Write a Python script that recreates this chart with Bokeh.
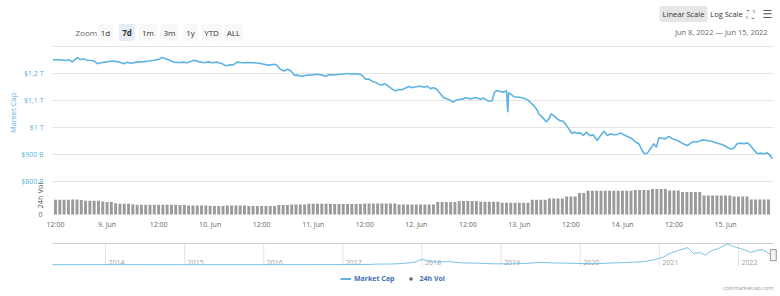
from bokeh.plotting import figure
from bokeh.models import Range1d, Label, Legend, LegendItem
from bokeh.core.properties import value
from bokeh.embed import file_html
from bokeh.resources import INLINE

FONT = "Open Sans"

# ---- main series: hours since 2022-06-08 00:00, market cap in billions USD
mcap_hours = [11.4, 12.8, 14.3, 15.1, 15.9, 17.1, 17.8, 18.6, 19.4, 20.6, 21.3, 21.7, 22.5, 23.6, 25.2,
              26.4, 27.1, 27.9, 28.7, 29.5, 31.0, 32.6, 33.7, 34.9, 36.1, 36.8, 38.0, 38.8, 39.5, 40.7,
              41.9, 42.7, 43.4, 44.2, 45.4, 46.5, 47.7, 48.5, 49.7, 50.8, 51.6, 52.8, 53.5, 54.3, 55.5,
              56.6, 58.2, 59.3, 60.9, 61.7, 63.2, 63.6, 64.4, 65.2, 66.0, 66.7, 67.7,
              68.3, 69.4, 70.6, 71.8, 72.9, 74.1, 74.9, 75.6, 77.2, 78.4, 79.9, 81.1, 82.3, 83.0, 83.6,
              84.2, 85.0, 85.7, 86.7, 87.3, 88.1, 88.6, 89.4, 90.0, 90.6, 91.2, 91.9, 92.7, 93.5, 94.3,
              95.1, 95.8, 97.0, 97.8, 98.5, 99.3, 100.1, 100.9, 101.6, 102.4, 103.2, 104.0, 104.5, 105.5,
              106.7, 107.5, 108.6, 109.8, 111.0, 111.7, 112.9, 113.7, 114.2, 114.8, 115.6, 116.4, 117.0,
              117.3, 117.5, 117.9, 118.7, 119.9, 120.7, 121.8,
              122.6, 123.4, 124.2, 124.5, 125.7, 126.3, 126.9, 127.4, 128.2, 128.8, 129.4, 130.2, 131.0,
              131.7, 132.3, 132.8, 133.5, 134.2, 134.9, 135.6, 136.4, 137.2, 138.1, 138.9, 139.7, 140.5,
              141.2, 142.0, 142.8, 143.6, 144.3, 145.5, 146.3, 147.0, 147.8, 148.6, 149.1, 149.8, 150.5,
              151.3, 151.9, 152.5, 153.3, 154.0, 154.8, 155.6, 156.8, 157.9, 159.1, 159.9, 160.6, 161.4,
              162.6, 163.7, 164.9, 166.1, 167.2, 168.4, 169.2, 169.9, 170.7, 171.5, 172.3, 173.1, 173.8,
              174.6, 175.4, 176.2, 176.9, 177.7, 178.3, 178.9]
mcap_billion = [1251, 1251, 1248, 1251, 1243, 1259, 1252, 1254, 1249, 1248, 1243, 1236, 1240, 1242, 1246,
                1244, 1241, 1236, 1242, 1238, 1242, 1244, 1246, 1249, 1253, 1259, 1253, 1248, 1242, 1241,
                1242, 1240, 1244, 1249, 1244, 1240, 1243, 1240, 1242, 1236, 1229, 1232, 1233, 1242, 1240,
                1241, 1240, 1238, 1233, 1231, 1234, 1230, 1215, 1209, 1216, 1211, 1193,
                1194, 1190, 1194, 1195, 1197, 1194, 1190, 1195, 1196, 1197, 1200, 1197, 1199, 1197, 1190,
                1179, 1179, 1171, 1166, 1159, 1158, 1162, 1154, 1147, 1140, 1136, 1141, 1140, 1146, 1152,
                1147, 1151, 1153, 1149, 1153, 1144, 1147, 1140, 1125, 1110, 1106, 1100, 1094, 1103,
                1105, 1110, 1106, 1111, 1105, 1109, 1097, 1100, 1131, 1137, 1133, 1131, 1137,
                1057, 1129, 1125, 1114, 1112, 1110, 1104,
                1092, 1081, 1063, 1051, 1032, 1020, 1032, 1051, 1041, 1032, 1026, 1023, 1007,
                991, 977, 983, 979, 980, 970, 983, 970, 973, 952, 970, 986, 970,
                977, 973, 974, 980, 973, 964, 958, 946, 940, 915, 903, 905, 921,
                940, 927, 962, 960, 958, 967, 958, 952, 942, 933, 942, 948, 946,
                954, 952, 948, 942, 937, 927, 920, 923, 940, 942, 940, 943, 933,
                917, 903, 905, 903, 906, 899, 884]

# ---- 24h volume: hourly bars, hours since 2022-06-08 00:00, billions USD
vol_hours = list(range(12, 179))
vol_billion = [74, 74, 74, 74, 75, 75, 72,
               69, 69, 69, 69,
               65, 62, 62,
               56, 54, 54, 54,
               51, 49, 49, 49, 49, 49, 49, 49, 49, 49, 49, 48, 47,
               45, 45, 45, 45, 45, 44,
               42, 42, 42,
               45, 45, 45, 45, 45,
               42, 42, 42, 42, 42, 42, 42,
               47, 47, 47,
               50, 50, 50, 50,
               54, 54, 54, 54, 54, 54,
               52, 52, 52, 52, 52, 52, 52,
               55, 55, 55, 55, 55, 55, 55, 55,
               50, 50, 50, 50, 50, 50, 50, 50, 50,
               62, 62, 62, 62, 62,
               67, 67, 67, 67, 67,
               64, 64, 64, 64, 64,
               59, 59, 59, 59, 59, 59, 59,
               74, 74, 74, 74,
               80, 80, 80, 80,
               90, 90, 90,
               107, 107,
               119, 119, 119, 119, 119, 119, 119, 119, 119, 119, 119,
               122, 122, 122, 122,
               127, 127, 127, 127,
               120, 120, 120,
               112, 112, 112, 112, 112,
               95, 95, 95, 95, 95, 95, 95,
               90, 90, 90, 90,
               75, 75, 75, 75, 75]

# visible 7-day window (hours since 2022-06-08 00:00)
win_start, win_end = 11.3, 179.17

x_tick_hours = [12, 24, 36, 48, 60, 72, 84, 96, 108, 120, 132, 144, 156, 168]
x_tick_labels = ["12:00", "9. Jun", "12:00", "10. Jun", "12:00", "11. Jun", "12:00", "12. Jun",
                 "12:00", "13. Jun", "12:00", "14. Jun", "12:00", "15. Jun"]
mcap_ticks = [800, 900, 1000, 1100, 1200]
mcap_tick_labels = ["$800 B", "$900 B", "$1 T", "$1,1 T", "$1,2 T"]
mcap_grid = [800, 900, 1000, 1100, 1200, 1300]

# ---- navigator: all-time market cap (year fraction, trillions USD)
nav_years = [2013.33, 2013.9, 2014.5, 2015.0, 2015.5, 2016.0, 2016.5, 2017.0, 2017.3, 2017.45, 2017.6,
             2017.75, 2017.9, 2018.0, 2018.1, 2018.2, 2018.35, 2018.5, 2018.7, 2018.9, 2019.1, 2019.3,
             2019.5, 2019.7, 2019.9, 2020.2, 2020.4, 2020.6, 2020.8, 2020.95, 2021.05, 2021.12, 2021.23,
             2021.36, 2021.43, 2021.52, 2021.58, 2021.66, 2021.74, 2021.86, 2021.94, 2022.07, 2022.15,
             2022.24, 2022.3, 2022.37, 2022.44]
nav_trillion = [0.002, 0.01, 0.008, 0.004, 0.004, 0.007, 0.011, 0.018, 0.03, 0.09, 0.1,
                0.17, 0.35, 0.8, 0.45, 0.4, 0.45, 0.27, 0.22, 0.13, 0.12, 0.18,
                0.33, 0.25, 0.2, 0.15, 0.25, 0.33, 0.45, 0.75, 1.1, 1.6, 2.05,
                2.5, 1.65, 1.75, 1.4, 2.05, 2.35, 3.0, 2.65, 2.2, 1.8,
                2.1, 2.2, 1.75, 1.2]
nav_year_ticks = [2014, 2015, 2016, 2017, 2018, 2019, 2020, 2021, 2022]
nav_year_labels = ["2014", "2015", "2016", "2017", "2018", "2019", "2020", "2021", "2022"]
nav_start, nav_end = 2013.33, 2022.442
nav_bottom, nav_top = -0.263, 3.1

LINE = "#5fb3e3"
LBL_BLUE = "#5aafe0"
GRID = "#e4e4e4"
W, H = 780, 296
NAN = float("nan")

p = figure(width=W, height=H, output_backend="svg", toolbar_location=None,
           x_axis_location=None, y_axis_location=None,
           x_range=Range1d(-0.806, 180.80), y_range=Range1d(374.07, 1470.37),
           min_border_left=0, min_border_right=0, min_border_top=0, min_border_bottom=0)
p.extra_x_ranges = {"nav": Range1d(2012.673, 2022.531)}
p.extra_y_ranges = {"vol": Range1d(-410, 1070), "nav": Range1d(-4.649, 38.626)}
p.outline_line_color = None
p.background_fill_color = "white"
p.border_fill_color = "white"
p.xgrid.visible = False
p.ygrid.visible = False
p.grid.grid_line_color = None

# ---- market cap pane
p.multi_line(xs=[[win_start, win_end] for _ in mcap_grid], ys=[[g, g] for g in mcap_grid],
             line_color=GRID, line_width=1)
mcap_r = p.line(mcap_hours, mcap_billion, line_color=LINE, line_width=1.6)
p.text(x=[win_start] * len(mcap_ticks), y=mcap_ticks, text=mcap_tick_labels, x_offset=-9,
       text_align="right", text_baseline="middle", text_font=value(FONT), text_font_size="7px",
       text_color=LBL_BLUE)

# ---- volume pane
p.vbar(x=vol_hours, top=vol_billion, bottom=0, width=0.68, fill_color="#9a9a9a", line_color=None,
       y_range_name="vol")
p.text(x=[win_start], y=[0], text=["0"], x_offset=-10, y_range_name="vol",
       text_align="right", text_baseline="middle", text_font=value(FONT), text_font_size="7px",
       text_color="#666666")
p.text(x=x_tick_hours, y=[0] * len(x_tick_hours), text=x_tick_labels, y_offset=10, y_range_name="vol",
       text_align="center", text_baseline="middle", text_font=value(FONT), text_font_size="7px",
       text_color="#666666")

# ---- navigator
p.multi_line(xs=[[yr, yr] for yr in nav_year_ticks], ys=[[nav_bottom, nav_top] for _ in nav_year_ticks],
             line_color=GRID, x_range_name="nav", y_range_name="nav")
p.multi_line(xs=[[nav_start, nav_end]], ys=[[nav_top, nav_top]], line_color="#cfcfcf",
             x_range_name="nav", y_range_name="nav")
p.text(x=nav_year_ticks, y=[nav_bottom] * len(nav_year_ticks), text=nav_year_labels,
       x_offset=3, y_offset=-1, text_baseline="bottom", text_align="left",
       text_font=value(FONT), text_font_size="7px", text_color="#a0a0a0",
       x_range_name="nav", y_range_name="nav")
p.line(nav_years, nav_trillion, line_color="#7cc3ea", line_width=1, x_range_name="nav", y_range_name="nav")
p.rect(x=[nav_years[-1]], y=[1.4], width=6, height=11, width_units="screen", height_units="screen",
       fill_color="#f2f2f2", line_color="#999999", line_width=1, x_range_name="nav", y_range_name="nav")

# ---- legend (the dot renderer holds no visible point; it only supplies the legend symbol)
leg_line = p.line(x=[NAN, NAN], y=[NAN, NAN], line_color=LINE, line_width=2)
leg_dot = p.scatter(x=[NAN], y=[NAN], marker="circle", size=7, fill_color="#666666", line_color=None)
legend = Legend(items=[LegendItem(label="Market Cap", renderers=[leg_line]),
                       LegendItem(label="24h Vol", renderers=[leg_dot])],
                orientation="horizontal", location=(340, 13), border_line_color=None,
                background_fill_alpha=0, label_text_font=FONT, label_text_font_size="7px",
                label_text_color="#3f6fb3", label_text_font_style="bold",
                glyph_width=11, glyph_height=9, spacing=11, padding=0, margin=0,
                label_standoff=3, label_height=10)
p.add_layout(legend)


def lab(text, cx, cy, bold=False, bg=None, color="#333333", size="8px", align="center",
        font=FONT, angle=0):
    l = Label(x=cx, y=H - cy, x_units="screen", y_units="screen", text=text,
              text_align=align, text_baseline="middle", text_font=font,
              text_font_size=size, text_color=color, angle=angle, angle_units="deg",
              text_font_style="bold" if bold else "normal")
    if bg:
        l.background_fill_color = bg
        l.padding = 3
        l.border_radius = 2
    p.add_layout(l)


# axis titles
lab("Market Cap", 12.5, 112.5, color=LBL_BLUE, size="7.5px", angle=90)
lab("24h Vol", 39, 195, color="#555555", size="7.5px", angle=90)

# header
lab("Zoom", 75, 32, color="#666666", align="left")
for t, cx in [("1d", 105), ("7d", 126.5), ("1m", 147.5), ("3m", 169), ("1y", 190), ("YTD", 211), ("ALL", 233)]:
    lab(t, cx, 32, bold=(t == "7d"), bg="#e6ebf5" if t == "7d" else "#f8f8f8")
lab("Linear Scale", 683, 13.5, bg="#e6e6e6", size="7.5px")
lab("Log Scale", 726, 13.5, size="7.5px")
lab("⛶", 750, 13.5, color="#666666", size="10px", font="DejaVu Sans")
lab("☰", 767, 13.5, color="#555555", size="11px", font="DejaVu Sans")
lab("Jun 8, 2022  \u2014  Jun 15, 2022", 771, 31, color="#666666", align="right", size="7.5px")
lab("coinmarketcap.com", 773, 287, color="#999999", align="right", size="5.5px")

open("out.html", "w").write(file_html(p, INLINE))
